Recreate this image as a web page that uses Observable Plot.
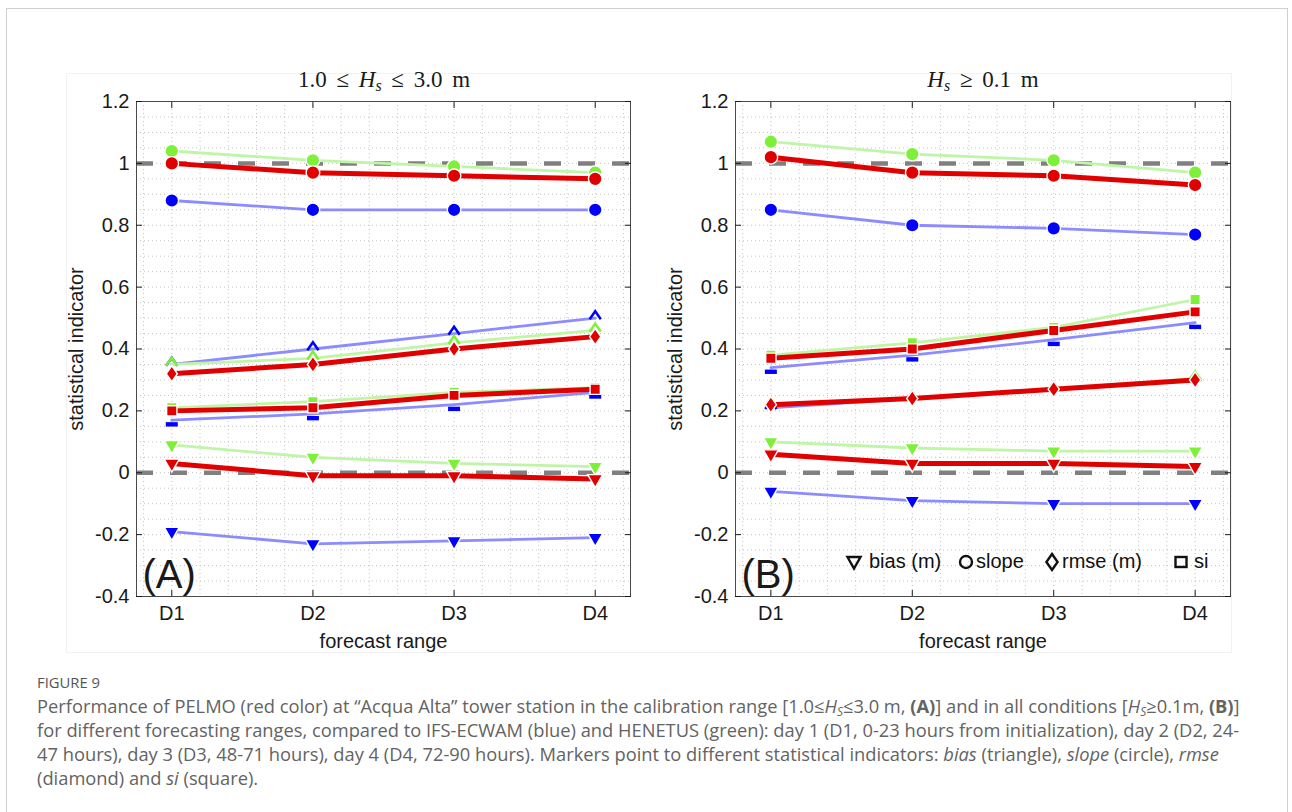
<!DOCTYPE html>
<html><head><meta charset="utf-8">
<script src="https://cdn.jsdelivr.net/npm/d3@7"></script>
<script src="https://cdn.jsdelivr.net/npm/@observablehq/plot@0.6"></script>
<style>
body{margin:0;background:#fff;}
#page{position:relative;width:1292px;height:812px;overflow:hidden;font-family:"Liberation Sans",Arial,sans-serif;}
#card{position:absolute;left:6px;top:8px;width:1282px;height:830px;border:1px solid #cfcfcf;box-sizing:border-box;}
#imgbox{position:absolute;left:66px;top:73px;width:1166px;height:580px;border:1px solid #f2f2f2;box-sizing:border-box;}
.panel{position:absolute;top:70px;}
.title{position:absolute;top:67px;transform:translateX(-50%);font-family:"Liberation Serif","DejaVu Serif",serif;font-size:23px;line-height:26px;color:#1a1a1a;white-space:nowrap;word-spacing:4px;}
.title sub{font-size:16px;vertical-align:-4px;line-height:0;}
.leg{position:absolute;font-size:20px;line-height:20px;color:#111;white-space:nowrap;}
.legsym{position:absolute;}
#cap{position:absolute;left:37px;top:0;font-family:"Open Sans","Noto Sans",sans-serif;color:#636363;}
.fig{position:absolute;left:0;top:674px;font-size:15px;line-height:16px;color:#555;white-space:nowrap;}
.ln{position:absolute;left:0;font-size:18px;line-height:24px;white-space:nowrap;}
.ln sub{font-size:0.65em;vertical-align:-3px;line-height:0;}
</style></head>
<body>
<div id="page">
  <div id="card"></div>
  <div id="imgbox"></div>
  <div id="panelA" class="panel" style="left:60px"></div>
  <div id="panelB" class="panel" style="left:660px"></div>
  <div class="title" style="left:384px">1.0 ≤ <i>H</i><sub><i>s</i></sub> ≤ 3.0 m</div>
  <div class="title" style="left:983px"><i>H</i><sub><i>s</i></sub> ≥ 0.1 m</div>
  <div id="legend"></div>
  <div id="cap">
    <div class="fig" id="figlab">FIGURE 9</div>
    <div class="ln" id="ln1" style="top:694px">Performance of PELMO (red color) at “Acqua Alta” tower station in the calibration range [1.0≤<i>H<sub>S</sub></i>≤3.0 m, <b>(A)</b>] and in all conditions [<i>H<sub>S</sub></i>≥0.1m, <b>(B)</b>]</div>
    <div class="ln" style="top:718px">for different forecasting ranges, compared to IFS-ECWAM (blue) and HENETUS (green): day 1 (D1, 0-23 hours from initialization), day 2 (D2, 24-</div>
    <div class="ln" style="top:742px">47 hours), day 3 (D3, 48-71 hours), day 4 (D4, 72-90 hours). Markers point to different statistical indicators: <i>bias</i> (triangle), <i>slope</i> (circle), <i>rmse</i></div>
    <div class="ln" style="top:766px">(diamond) and <i>si</i> (square).</div>
  </div>
</div>
<script>
// ---- categories ----
const days = ["D1", "D2", "D3", "D4"];
const dayIndex = [1, 2, 3, 4];
const models = ["IFS-ECWAM", "HENETUS", "PELMO"];
const indicators = ["bias (m)", "slope", "rmse (m)", "si"];
const yTicks = [-0.4, -0.2, 0, 0.2, 0.4, 0.6, 0.8, 1, 1.2];
const refLines = [0, 1];

// ---- Panel A: 1.0 <= Hs <= 3.0 m ----
const aBiasIFS  = [-0.19, -0.23, -0.22, -0.21];
const aBiasHEN  = [0.09, 0.05, 0.03, 0.02];
const aBiasPEL  = [0.03, -0.01, -0.01, -0.02];
const aSlopeIFS = [0.88, 0.85, 0.85, 0.85];
const aSlopeHEN = [1.04, 1.01, 0.99, 0.97];
const aSlopePEL = [1.00, 0.97, 0.96, 0.95];
const aRmseIFS  = [0.35, 0.40, 0.45, 0.50];
const aRmseHEN  = [0.35, 0.37, 0.42, 0.46];
const aRmsePEL  = [0.32, 0.35, 0.40, 0.44];
const aSiIFS    = [0.17, 0.19, 0.22, 0.26];
const aSiHEN    = [0.21, 0.23, 0.26, 0.275];
const aSiPEL    = [0.20, 0.21, 0.25, 0.27];

// ---- Panel B: Hs >= 0.1 m ----
const bBiasIFS  = [-0.06, -0.09, -0.10, -0.10];
const bBiasHEN  = [0.10, 0.08, 0.07, 0.07];
const bBiasPEL  = [0.06, 0.03, 0.03, 0.02];
const bSlopeIFS = [0.85, 0.80, 0.79, 0.77];
const bSlopeHEN = [1.07, 1.03, 1.01, 0.97];
const bSlopePEL = [1.02, 0.97, 0.96, 0.93];
const bRmseIFS  = [0.21, 0.24, 0.27, 0.30];
const bRmseHEN  = [0.22, 0.24, 0.27, 0.305];
const bRmsePEL  = [0.22, 0.24, 0.27, 0.30];
const bSiIFS    = [0.34, 0.38, 0.43, 0.485];
const bSiHEN    = [0.38, 0.42, 0.47, 0.56];
const bSiPEL    = [0.37, 0.40, 0.46, 0.52];

const panelA = {
  "IFS-ECWAM": {"bias (m)": aBiasIFS, "slope": aSlopeIFS, "rmse (m)": aRmseIFS, "si": aSiIFS},
  "HENETUS":   {"bias (m)": aBiasHEN, "slope": aSlopeHEN, "rmse (m)": aRmseHEN, "si": aSiHEN},
  "PELMO":     {"bias (m)": aBiasPEL, "slope": aSlopePEL, "rmse (m)": aRmsePEL, "si": aSiPEL}
};
const panelB = {
  "IFS-ECWAM": {"bias (m)": bBiasIFS, "slope": bSlopeIFS, "rmse (m)": bRmseIFS, "si": bSiIFS},
  "HENETUS":   {"bias (m)": bBiasHEN, "slope": bSlopeHEN, "rmse (m)": bRmseHEN, "si": bSiHEN},
  "PELMO":     {"bias (m)": bBiasPEL, "slope": bSlopePEL, "rmse (m)": bRmsePEL, "si": bSiPEL}
};

// ---- styles ----
const markerColor = {"IFS-ECWAM": "#0000ff", "HENETUS": "#7ef03a", "PELMO": "#e00000"};
const lineColor   = {"IFS-ECWAM": "#8c8cff", "HENETUS": "#bff5a6", "PELMO": "#e00000"};
const lineWidth   = {"IFS-ECWAM": 2.8, "HENETUS": 2.8, "PELMO": 5};

const diamondSym = {draw(c) { c.moveTo(0, -8); c.lineTo(5.6, 0); c.lineTo(0, 8); c.lineTo(-5.6, 0); c.closePath(); }};
const chevronSym = {draw(c) { c.moveTo(-5.6, 1.2); c.lineTo(0, -6.8); c.lineTo(5.6, 1.2); }};
const barSym     = {draw(c) { c.rect(-6, 2, 12, 4.4); }};

function markerOpts(model, ind) {
  const col = markerColor[model];
  const base = {stroke: "white", strokeWidth: 1.4, fill: col};
  if (ind === "bias (m)") return {...base, symbol: "triangle", r: 5.6, rotate: 180};
  if (ind === "slope") return {...base, symbol: "circle", r: 6.8};
  if (ind === "rmse (m)") {
    if (model === "PELMO") return {...base, symbol: diamondSym, r: 5};
    return {symbol: chevronSym, r: 5, fill: "none", stroke: col, strokeWidth: 2.5};
  }
  if (model === "IFS-ECWAM") return {symbol: barSym, r: 5, fill: col, stroke: "none"};
  return {...base, symbol: "square", r: 5.8};
}

const xMinor = d3.range(0.8, 4.25, 0.2);
const yMinor = d3.range(-0.35, 1.2, 0.05);
const fmtY = d => String(+(+d).toFixed(1));

function makePanel(data, label, ml) {
  const marks = [
    Plot.ruleX(xMinor, {stroke: "#c4c4c4", strokeDasharray: "1,3", strokeWidth: 1}),
    Plot.ruleY(yMinor, {stroke: "#c4c4c4", strokeDasharray: "1,3", strokeWidth: 1}),
    Plot.ruleY(refLines, {stroke: "#808080", strokeWidth: 4.5, strokeDasharray: "17,17"})
  ];
  for (const model of models) {
    for (const ind of indicators) {
      const rows = data[model][ind].map((v, i) => ({x: dayIndex[i], day: days[i], v}));
      marks.push(Plot.line(rows, {x: "x", y: "v", stroke: lineColor[model], strokeWidth: lineWidth[model]}));
    }
    for (const ind of indicators) {
      const rows = data[model][ind].map((v, i) => ({x: dayIndex[i], day: days[i], v}));
      marks.push(Plot.dot(rows, {x: "x", y: "v", ...markerOpts(model, ind)}));
    }
  }
  marks.push(
    Plot.frame({stroke: "#4a4a4a", strokeWidth: 1}),
    Plot.axisX({ticks: dayIndex, tickSize: 0, tickPadding: 9, tickFormat: i => days[i - 1],
      label: "forecast range", labelAnchor: "center", labelOffset: 51, labelArrow: "none"}),
    Plot.axisX({anchor: "top", ticks: dayIndex, tickSize: -6, tickFormat: () => "", label: null}),
    Plot.axisX({anchor: "bottom", ticks: dayIndex, tickSize: -6, tickFormat: () => "", label: null}),
    Plot.axisY({ticks: yTicks, tickSize: 0, tickPadding: 7, tickFormat: fmtY,
      label: "statistical indicator", labelAnchor: "center", labelOffset: 68, labelArrow: "none"}),
    Plot.axisY({anchor: "left", ticks: yTicks, tickSize: -6, tickFormat: () => "", label: null}),
    Plot.axisY({anchor: "right", ticks: yTicks, tickSize: -6, tickFormat: () => "", label: null}),
    Plot.text([label], {frameAnchor: "bottom-left", text: d => d, dx: 6, dy: -9,
      lineAnchor: "bottom", textAnchor: "start", fontSize: 40})
  );
  return Plot.plot({
    width: 600, height: 590,
    marginLeft: ml, marginRight: 30, marginTop: 31, marginBottom: 64,
    style: {fontFamily: "'Liberation Sans', Arial, sans-serif", fontSize: "20px", color: "#1a1a1a", background: "transparent", overflow: "visible"},
    x: {domain: [0.75, 4.25]},
    y: {domain: [-0.4, 1.2]},
    marks
  });
}

document.getElementById("panelA").append(makePanel(panelA, "(A)", 76));
document.getElementById("panelB").append(makePanel(panelB, "(B)", 75));

// ---- legend (panel B) ----
const legendItems = [
  {name: "bias (m)", sym: '<path d="M-6.5,-5 L6.5,-5 L0,6.5 Z"/>', cx: 854, tx: 869},
  {name: "slope", sym: '<circle r="6"/>', cx: 966, tx: 976},
  {name: "rmse (m)", sym: '<path d="M0,-8 L5.6,0 L0,8 L-5.6,0 Z"/>', cx: 1052, tx: 1062},
  {name: "si", sym: '<rect x="-5.5" y="-5" width="11" height="10"/>', cx: 1181, tx: 1194}
];
const leg = document.getElementById("legend");
for (const it of legendItems) {
  const s = document.createElement("div");
  s.className = "legsym";
  s.style.left = (it.cx - 10) + "px"; s.style.top = (562 - 10) + "px";
  s.innerHTML = `<svg width="20" height="20" viewBox="-10 -10 20 20"><g fill="none" stroke="#111" stroke-width="2.4">${it.sym}</g></svg>`;
  leg.append(s);
  const t = document.createElement("div");
  t.className = "leg";
  t.style.left = it.tx + "px"; t.style.top = (562 - 11) + "px";
  t.textContent = it.name;
  leg.append(t);
}

// fit caption width to the reference line length
const ln1 = document.getElementById("ln1");
const w1 = ln1.getBoundingClientRect().width;
const fs = 18 * 1204 / w1;
document.querySelectorAll(".ln").forEach(e => e.style.fontSize = fs + "px");
const fig = document.getElementById("figlab");
fig.style.fontSize = (15 * 63 / fig.getBoundingClientRect().width) + "px";
</script>
</body></html>
